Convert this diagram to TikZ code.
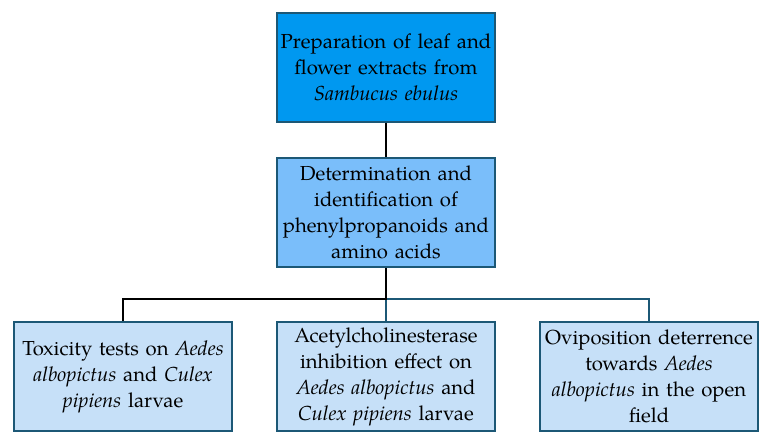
\documentclass[tikz,border=0pt]{standalone}
\usepackage{fontspec}
\setmainfont{TeX Gyre Pagella}
\definecolor{bordc}{RGB}{28,88,118}
\definecolor{topf}{RGB}{0,152,240}
\definecolor{midf}{RGB}{122,190,250}
\definecolor{lowf}{RGB}{198,224,248}
\begin{document}
\begin{tikzpicture}[x=1pt,y=1pt,
  box/.style={draw=bordc,line width=1.4pt,minimum width=218pt,minimum height=109pt,
    text width=214pt,align=center,inner sep=0pt,font=\fontsize{20.3}{26}\selectfont},
  conn/.style={line width=1.4pt}]
\useasboundingbox (0,0) rectangle (769,446);
\node[box,fill=topf] (top) at (386,378.5) {Preparation of leaf and\\flower extracts from\\\textit{Sambucus ebulus}};
\node[box,fill=midf] (mid) at (386,233.5) {Determination and\\identification of\\phenylpropanoids and\\amino acids};
\node[box,fill=lowf] (b1) at (123,69.5) {Toxicity tests on \textit{Aedes}\\\textit{albopictus} and \textit{Culex}\\\textit{pipiens} larvae};
\node[box,fill=lowf] (b2) at (386,69.5) {Acetylcholinesterase\\inhibition effect on\\\textit{Aedes albopictus} and\\\textit{Culex pipiens} larvae};
\node[box,fill=lowf] (b3) at (649,69.5) {Oviposition deterrence\\towards \textit{Aedes}\\\textit{albopictus} in the open\\field};
\coordinate (j) at (386,147);
\draw[conn] (top.south) -- (mid.north);
\draw[conn,bordc] (j) -| (b3.north);
\draw[conn,bordc] (j) -- (b2.north);
\draw[conn] (mid.south) -- (j) -| (b1.north);
\end{tikzpicture}
\end{document}
